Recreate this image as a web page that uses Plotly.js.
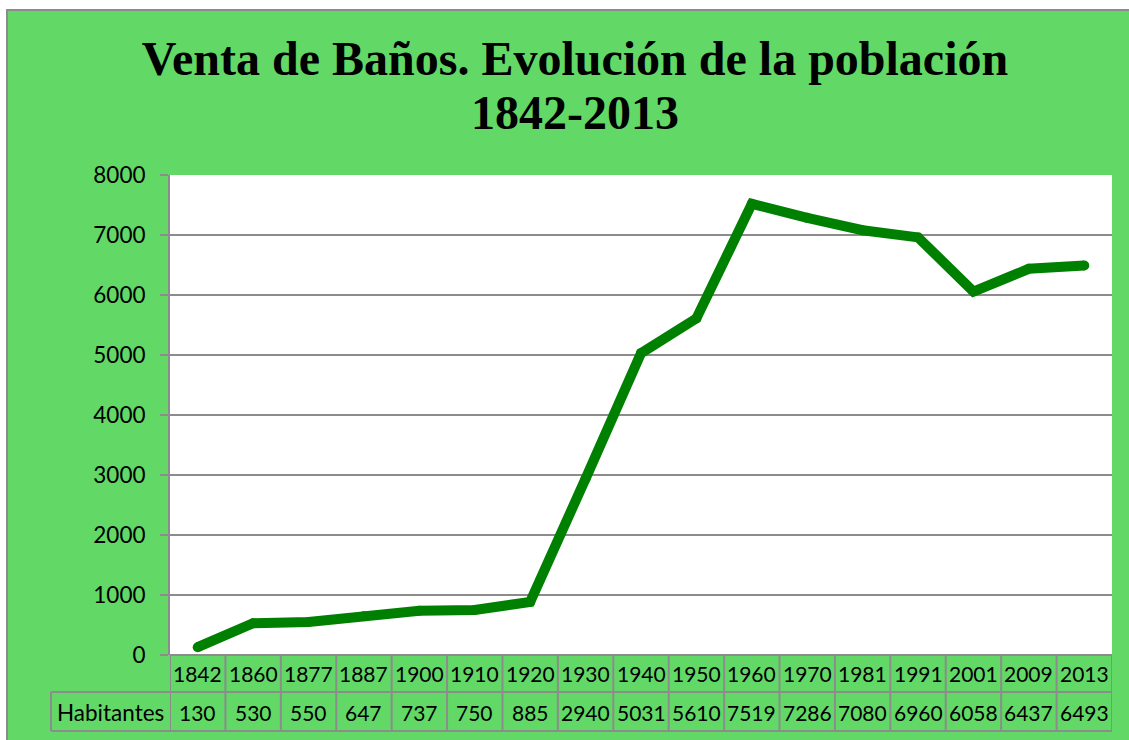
<!DOCTYPE html>
<html><head><meta charset="utf-8">
<script src="https://cdn.plot.ly/plotly-3.0.1.min.js"></script>
<style>
html,body{margin:0;padding:0;background:#fff;overflow:hidden;width:1129px;height:740px;}
#chart{position:absolute;left:6px;top:9px;width:1121px;height:731px;border:2px solid #8c8c8c;border-right:none;border-bottom:none;}
</style></head><body>
<div id="chart"></div>
<script>
const years = ["1842","1860","1877","1887","1900","1910","1920","1930","1940","1950","1960","1970","1981","1991","2001","2009","2013"];
const habitantes = [130,530,550,647,737,750,885,2940,5031,5610,7519,7286,7080,6960,6058,6437,6493];
const rowLabel = "Habitantes";
const titleLines = ["Venta de Baños. Evolución de la población", "1842-2013"];

const W = 1121, H = 731;
const L = 162, T = 164, PW = 942, PH = 480;
const R = W - L - PW, B = H - T - PH;
const py = d => -d / PH;           // pixels below plot bottom -> paper y
const px = d => d / PW;            // pixels from plot left -> paper x
const gray = "#8c8c8c";
const font = "Lato, 'Open Sans', sans-serif";

const idx = years.map((_, i) => i);
const shapes = [];
const annotations = [];
const rowTop = 0, rowMid = py(37), rowBot = py(76), hdrLeft = px(-119);
shapes.push({type:"line", xref:"paper", yref:"paper", x0:0, x1:1, y0:rowTop, y1:rowTop, line:{color:gray,width:2}});
shapes.push({type:"line", xref:"paper", yref:"paper", x0:hdrLeft, x1:1, y0:rowMid, y1:rowMid, line:{color:gray,width:2}});
shapes.push({type:"line", xref:"paper", yref:"paper", x0:hdrLeft, x1:1, y0:rowBot, y1:rowBot, line:{color:gray,width:2}});
shapes.push({type:"line", xref:"paper", yref:"paper", x0:hdrLeft, x1:hdrLeft, y0:rowMid, y1:rowBot, line:{color:gray,width:2}});
for (let i = 0; i <= years.length; i++) {
  shapes.push({type:"line", xref:"x", yref:"paper", x0:i-0.5, x1:i-0.5, y0:rowTop, y1:rowBot, line:{color:gray,width:2}});
}
years.forEach((y, i) => {
  annotations.push({xref:"x", yref:"paper", x:i, y:py(18), text:y, showarrow:false, xanchor:"center", yanchor:"middle", font:{family:font,size:21,color:"#000"}});
  annotations.push({xref:"x", yref:"paper", x:i, y:py(57), text:String(habitantes[i]), showarrow:false, xanchor:"center", yanchor:"middle", font:{family:font,size:21,color:"#000"}});
});
annotations.push({xref:"paper", yref:"paper", x:px(-60), y:py(57), text:rowLabel, showarrow:false, xanchor:"center", yanchor:"middle", font:{family:font,size:22.5,color:"#000"}});

const trace = {
  x: idx, y: habitantes, type:"scatter", mode:"lines+markers",
  line:{color:"#008000", width:10},
  marker:{color:"#008000", size:10},
  hoverinfo:"y", showlegend:false, cliponaxis:false
};

const titleText = titleLines.map(s => '<span style="font-size:48px">' + s + '</span>').join('<br>');

const layout = {
  width: W, height: H,
  margin:{l:L, r:R, t:T, b:B, pad:0},
  paper_bgcolor:"#62d866",
  plot_bgcolor:"#ffffff",
  title:{text:titleText, x:(575-8)/W, xref:"container", xanchor:"center", y:1-(75-11)/H, yref:"container", yanchor:"top",
         font:{family:"'Liberation Serif', 'Times New Roman', serif", size:41.5, color:"#000", weight:"bold"}},
  xaxis:{range:[-0.5, years.length-0.5], showgrid:false, zeroline:false, showticklabels:false, ticks:"", showline:false, fixedrange:true},
  yaxis:{range:[0,8000], dtick:1000, tick0:0, showgrid:true, gridcolor:gray, gridwidth:1.5, zeroline:false,
         showline:true, linecolor:gray, linewidth:2, ticks:"outside", ticklen:8, tickcolor:gray, tickwidth:1.5,
         ticklabelstandoff:10, tickfont:{family:font, size:22.5, color:"#000"}, fixedrange:true},
  shapes: shapes,
  annotations: annotations
};
Plotly.newPlot("chart", [trace], layout, {displayModeBar:false, staticPlot:true});
</script>
</body></html>
